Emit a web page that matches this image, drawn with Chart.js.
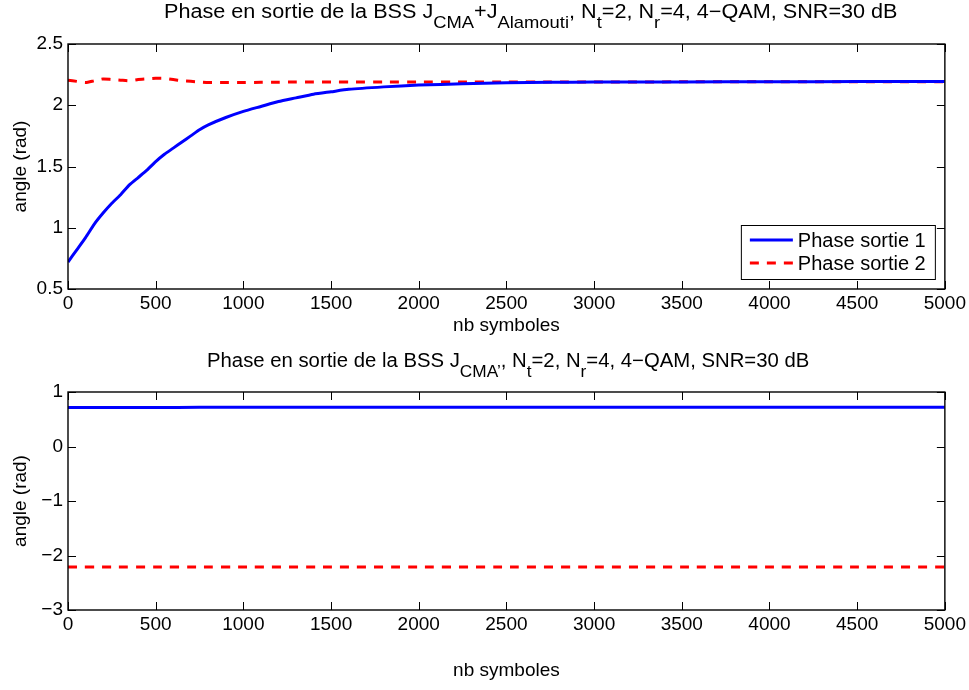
<!DOCTYPE html>
<html><head><meta charset="utf-8">
<script src="https://cdn.jsdelivr.net/npm/chart.js@4.4.0/dist/chart.umd.min.js"></script>
<style>
html,body{margin:0;padding:0;background:#fff;}
#wrap{position:relative;width:969px;height:690px;overflow:hidden;font-family:"Liberation Sans",Arial,sans-serif;}
.cv{position:absolute;left:0;width:969px;height:345px;}
.ttl{position:absolute;font-size:20px;white-space:nowrap;color:#000;line-height:20px;transform-origin:0 0;}
.ttl .s{font-size:17px;vertical-align:-10px;}
</style></head><body>
<div id="wrap">
<canvas id="c1" class="cv" style="top:0" width="969" height="345"></canvas>
<canvas id="c2" class="cv" style="top:345px" width="969" height="345"></canvas>
<div class="ttl" id="t1" style="left:164px;top:1px">Phase en sortie de la BSS J<span class="s">CMA</span>+J<span class="s">Alamouti</span>, N<span class="s">t</span>=2, N<span class="s">r</span>=4, 4−QAM, SNR=30 dB</div>
<div class="ttl" id="t2" style="left:207px;top:350px">Phase en sortie de la BSS J<span class="s">CMA’</span>, N<span class="s">t</span>=2, N<span class="s">r</span>=4, 4−QAM, SNR=30 dB</div>
</div>
<script>
// ---- data ----
const seriesNames = ['Phase sortie 1', 'Phase sortie 2'];
const xTop = [0,50,100,150,200,250,300,350,400,450,500,550,600,650,700,750,800,900,1000,1100,1200,1300,1400,1500,1600,1800,2000,2250,2500,2750,3000,3500,4000,4500,5000];
const topPhase1 = [0.72,0.82,0.92,1.03,1.12,1.20,1.27,1.35,1.41,1.47,1.54,1.60,1.65,1.70,1.75,1.80,1.84,1.90,1.95,1.99,2.03,2.06,2.09,2.11,2.13,2.15,2.165,2.175,2.183,2.187,2.19,2.19,2.192,2.193,2.193];
const topPhase2 = [2.205,2.195,2.185,2.20,2.215,2.21,2.205,2.20,2.21,2.215,2.22,2.22,2.21,2.20,2.195,2.19,2.185,2.185,2.185,2.187,2.188,2.19,2.19,2.19,2.19,2.19,2.19,2.19,2.19,2.19,2.19,2.191,2.192,2.192,2.192];
const xBottom = [0,250,500,750,1000,1500,2000,2500,3000,3500,4000,4500,5000];
const bottomPhase1 = [0.715,0.716,0.717,0.718,0.72,0.72,0.721,0.722,0.722,0.722,0.722,0.722,0.722];
const bottomPhase2 = [-2.21,-2.21,-2.21,-2.21,-2.21,-2.21,-2.21,-2.21,-2.21,-2.21,-2.21,-2.21,-2.21];
const xTicks = [0,500,1000,1500,2000,2500,3000,3500,4000,4500,5000];
const xTickLabels = ['0','500','1000','1500','2000','2500','3000','3500','4000','4500','5000'];
const topYTicks = [0.5,1,1.5,2,2.5];
const topYTickLabels = ['0.5','1','1.5','2','2.5'];
const bottomYTicks = [-3,-2,-1,0,1];
const bottomYTickLabels = ['−3','−2','−1','0','1'];
const xTitle = 'nb symboles';
const yTitle = 'angle (rad)';

Chart.defaults.font.family = '"Liberation Sans", Arial, sans-serif';
Chart.defaults.font.size = 19;
Chart.defaults.color = '#000';

// fit HTML titles to their measured extent in the reference
function fitTitle(id, width) {
  const el = document.getElementById(id);
  const w = el.offsetWidth;
  if (w > 0) el.style.transform = 'scaleX(' + (width / w) + ')';
}
fitTitle('t1', 734);
fitTitle('t2', 602);

const pts = (xs, ys) => xs.map((x, i) => ({x: x, y: ys[i]}));

const framePlugin = {
  id: 'frame',
  afterDatasetsDraw(chart) {
    const ctx = chart.ctx, a = chart.chartArea;
    const xs = chart.scales.x, ys = chart.scales.y;
    ctx.save();
    ctx.strokeStyle = '#000';
    ctx.lineWidth = 1;
    ctx.beginPath();
    xs.ticks.forEach(t => {
      const p = Math.round(xs.getPixelForValue(t.value)) + 0.5;
      ctx.moveTo(p, a.bottom); ctx.lineTo(p, a.bottom - 8);
      ctx.moveTo(p, a.top); ctx.lineTo(p, a.top + 8);
    });
    ys.ticks.forEach(t => {
      const p = Math.round(ys.getPixelForValue(t.value)) + 0.5;
      ctx.moveTo(a.left, p); ctx.lineTo(a.left + 8, p);
      ctx.moveTo(a.right, p); ctx.lineTo(a.right - 8, p);
    });
    ctx.stroke();
    ctx.lineWidth = 1.4;
    ctx.strokeRect(a.left, a.top, a.right - a.left, a.bottom - a.top);
    ctx.restore();
  }
};

const boxLegend = {
  id: 'boxLegend',
  afterDraw(chart, args, opts) {
    if (!opts.show) return;
    const ctx = chart.ctx, a = chart.chartArea;
    const w = 194, h = 54;
    const x = a.right - 10 - w, y = a.bottom - 10 - h;
    ctx.save();
    ctx.fillStyle = '#fff';
    ctx.fillRect(x, y, w, h);
    ctx.strokeStyle = '#000';
    ctx.lineWidth = 1;
    ctx.strokeRect(x + 0.5, y + 0.5, w, h);
    chart.data.datasets.forEach((ds, i) => {
      const cy = y + 15 + i * 23;
      ctx.strokeStyle = ds.borderColor;
      ctx.lineWidth = ds.borderWidth;
      ctx.setLineDash(ds.borderDash || []);
      ctx.beginPath(); ctx.moveTo(x + 9, cy); ctx.lineTo(x + 52, cy); ctx.stroke();
      ctx.setLineDash([]);
      ctx.fillStyle = '#000';
      ctx.font = '20px "Liberation Sans", Arial, sans-serif';
      ctx.textBaseline = 'middle';
      ctx.textAlign = 'left';
      ctx.fillText(ds.label, x + 57, cy + 1);
    });
    ctx.restore();
  }
};

function makeChart(id, d1, d2, yTicks, yLabels, yMin, yMax, pad, xH, legend) {
  return new Chart(document.getElementById(id), {
    type: 'line',
    data: {
      datasets: [
        {label: seriesNames[0], data: d1, borderColor: '#0000ff', borderWidth: 3, pointRadius: 0, tension: 0.2, fill: false},
        {label: seriesNames[1], data: d2, borderColor: '#ff0000', borderWidth: 3, borderDash: [9, 8], pointRadius: 0, tension: 0.2, fill: false}
      ]
    },
    options: {
      responsive: false,
      animation: false,
      devicePixelRatio: 1,
      layout: {padding: pad},
      plugins: {legend: {display: false}, tooltip: {enabled: false}, boxLegend: {show: legend}},
      scales: {
        x: {
          type: 'linear', min: 0, max: 5000,
          afterBuildTicks: s => { s.ticks = xTicks.map(v => ({value: v})); },
          afterFit: s => { s.height = xH; },
          grid: {display: false, drawTicks: false},
          border: {display: false},
          ticks: {padding: 3, maxRotation: 0, autoSkip: false, callback: (v, i) => xTickLabels[i]},
          title: {display: true, text: xTitle, font: {size: 19}, padding: {top: 0, bottom: 8}}
        },
        y: {
          type: 'linear', min: yMin, max: yMax,
          afterBuildTicks: s => { s.ticks = yTicks.map(v => ({value: v})); },
          afterFit: s => { s.width = 68; },
          grid: {display: false, drawTicks: false},
          border: {display: false},
          ticks: {padding: 5, autoSkip: false, callback: (v, i) => yLabels[i]},
          title: {display: true, text: yTitle, font: {size: 19}, padding: {top: 9, bottom: 0}}
        }
      }
    },
    plugins: [framePlugin, boxLegend]
  });
}

makeChart('c1', pts(xTop, topPhase1), pts(xTop, topPhase2), topYTicks, topYTickLabels, 0.5, 2.5,
  {left: 0, right: 22, top: 44, bottom: 0}, 56, true);
makeChart('c2', pts(xBottom, bottomPhase1), pts(xBottom, bottomPhase2), bottomYTicks, bottomYTickLabels, -3, 1,
  {left: 0, right: 22, top: 47, bottom: 0}, 80, false);
</script>
</body></html>
